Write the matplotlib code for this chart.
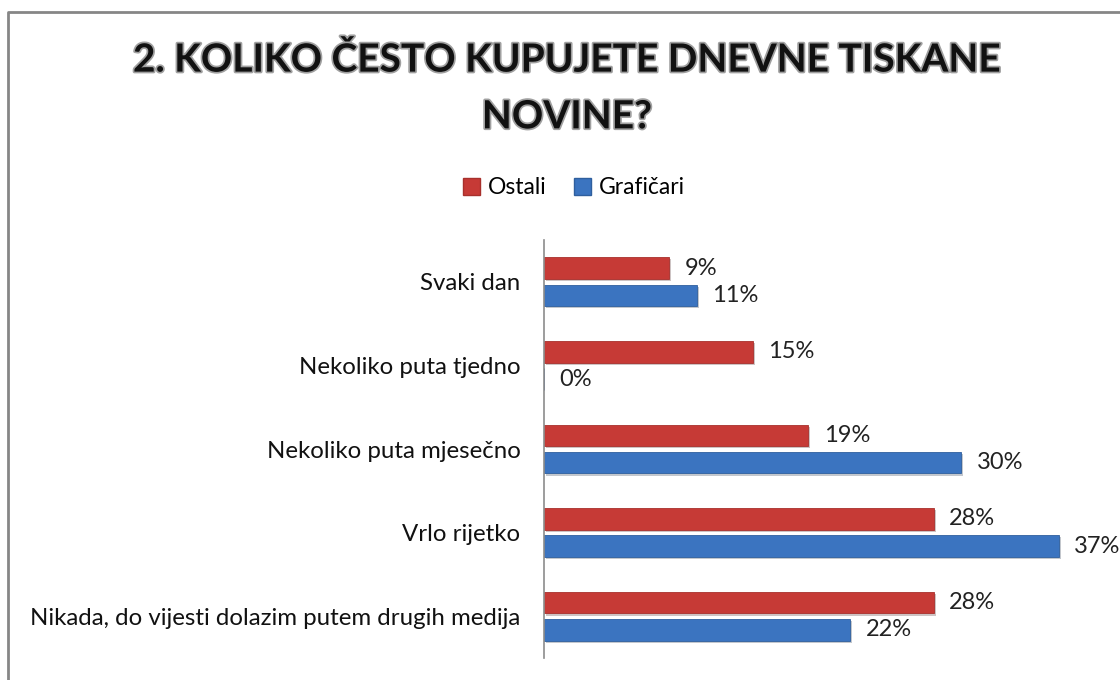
import matplotlib.pyplot as plt
import matplotlib.patheffects as pe
from matplotlib.lines import Line2D
from matplotlib.patches import Patch
import numpy as np

plt.rcParams['font.family'] = ['Lato', 'DejaVu Sans']

categories = ['Svaki dan', 'Nekoliko puta tjedno', 'Nekoliko puta mjesečno',
              'Vrlo rijetko', 'Nikada, do vijesti dolazim putem drugih medija']
ostali = [9, 15, 19, 28, 28]
graficari = [11, 0, 30, 37, 22]
series_names = ['Ostali', 'Grafičari']

red = '#C63A36'
blue = '#3B74C0'

fig = plt.figure(figsize=(11.2, 6.8), dpi=100)
W, H = 1120, 680
# axes: x 544..1120, y 240..658 (pixels)
ax = fig.add_axes([544 / W, 1 - 658 / H, (1120 - 544) / W, (658 - 240) / H])

y = np.arange(len(categories))
h = 0.26
off = 0.163
shadow = [pe.SimplePatchShadow(offset=(1.5, -1.5), alpha=0.25), pe.Normal()]
b1 = ax.barh(y - off, ostali, height=h, color=red, edgecolor='#A8302C', linewidth=0.6)
b2 = ax.barh(y + off, graficari, height=h, color=blue, edgecolor='#2F5F9E', linewidth=0.6)
for bars in (b1, b2):
    for b in bars:
        if b.get_width() > 0:
            b.set_path_effects(shadow)

for vals, pos in ((ostali, y - off), (graficari, y + off)):
    for v, p in zip(vals, pos):
        ax.text(v + 1.1, p, f'{v}%', va='center', ha='left', fontsize=17, color='#222222')

ax.set_xlim(0, 41.4)
ax.set_ylim(len(categories) - 0.5, -0.5)
ax.set_yticks(y)
ax.set_yticklabels(categories, fontsize=17.3, color='#111111')
ax.tick_params(axis='y', length=0, pad=17)
ax.set_xticks([])
for s in ('top', 'right', 'bottom'):
    ax.spines[s].set_visible(False)
ax.spines['left'].set_color('#8C8C8C')
ax.spines['left'].set_linewidth(1.2)

fig.text(567 / W, 1 - 88 / H, '2. KOLIKO ČESTO KUPUJETE DNEVNE TISKANE\nNOVINE?',
         ha='center', va='center', fontsize=28, fontweight='bold', color='#111111',
         linespacing=1.75,
         path_effects=[pe.withStroke(linewidth=2.5, foreground='#A0A0A0')])

handles = [Patch(facecolor=red, edgecolor='#A8302C'), Patch(facecolor=blue, edgecolor='#2F5F9E')]
fig.legend(handles, series_names, loc='center', bbox_to_anchor=(574 / W, 1 - 188 / H),
           ncol=2, frameon=False, fontsize=16.5, handlelength=0.75, handleheight=0.75,
           handletextpad=0.35, columnspacing=1.2)

fig.add_artist(Line2D([8 / W, 8 / W, 1], [0, 1 - 12 / H, 1 - 12 / H],
                      transform=fig.transFigure, color='#868686', linewidth=2))

fig.savefig('out.png', dpi=100)
